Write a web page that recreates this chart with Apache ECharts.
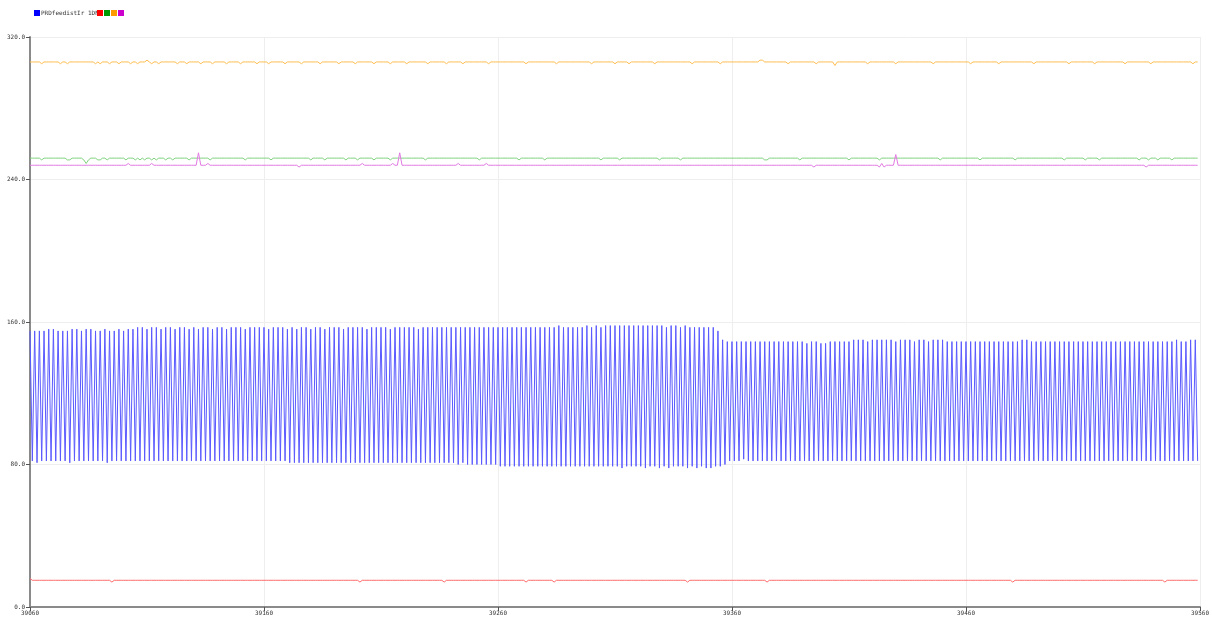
<!DOCTYPE html>
<html>
<head>
<meta charset="utf-8">
<script src="https://cdn.jsdelivr.net/npm/echarts@6/dist/echarts.min.js"></script>
<style>
  html, body { margin: 0; padding: 0; background: #fff; }
  #chart { width: 1212px; height: 632px; }
</style>
</head>
<body>
<div id="chart"></div>
<script>
// serial plotter capture: 500 samples per trace, sample index on x
const xStart = 39060
const xTicks = [39060, 39160, 39260, 39360, 39460, 39560]
const yTicks = [0, 80, 160, 240, 320]
const seriesNames = ['PRDfeedistIr 1DN', 's2', 's3', 's4', 's5']

const blue = [
  155,82,155,81,155,82,155,82,156,82,156,82,155,82,155,82,155,81,156,82,
  156,82,155,82,156,82,156,82,155,82,155,82,156,81,155,82,155,82,156,82,
  155,82,156,82,156,82,157,82,157,82,156,82,157,82,157,82,156,82,157,82,
  157,82,156,82,157,82,157,82,156,82,157,82,156,82,157,82,157,82,156,82,
  157,82,157,82,156,82,157,82,157,82,157,82,156,82,157,82,157,82,157,82,
  157,82,156,82,157,82,157,82,157,82,156,81,157,81,156,81,157,81,157,81,
  156,81,157,81,157,81,156,81,157,81,157,81,157,81,156,81,157,81,157,81,
  157,81,157,81,156,81,157,81,157,81,157,81,157,81,156,81,157,81,157,81,
  157,81,157,81,157,81,156,81,157,81,157,81,157,81,157,81,157,81,157,81,
  157,81,157,80,157,81,157,80,157,80,157,80,157,80,157,80,157,80,157,80,
  157,79,157,79,157,79,157,79,157,79,157,79,157,79,157,79,157,79,157,79,
  157,79,157,79,157,79,158,79,157,79,157,79,157,79,157,79,157,79,158,79,
  157,79,158,79,157,79,158,79,158,79,158,79,158,78,158,79,158,79,158,79,
  158,79,158,78,158,79,158,79,158,78,158,79,157,78,158,79,158,79,157,79,
  158,78,157,79,157,78,157,79,157,78,157,78,157,79,155,79,150,80,149,82,
  149,82,149,82,149,83,149,82,149,82,149,82,149,82,149,82,149,82,149,82,
  149,82,149,82,149,82,149,82,149,82,149,82,148,82,149,82,149,82,148,82,
  148,82,149,82,149,82,149,82,149,82,149,82,150,82,150,82,150,82,149,82,
  150,82,150,82,150,82,150,82,150,82,149,82,150,82,150,82,150,82,149,82,
  150,82,150,82,149,82,150,82,150,82,150,82,149,82,149,82,149,82,149,82,
  149,82,149,82,149,82,149,82,149,82,149,82,149,82,149,82,149,82,149,82,
  149,82,149,82,150,82,150,82,149,82,149,82,149,82,149,82,149,82,149,82,
  149,82,149,82,149,82,149,82,149,82,149,82,149,82,149,82,149,82,149,82,
  149,82,149,82,149,82,149,82,149,82,149,82,149,82,149,82,149,82,149,82,
  149,82,149,82,149,82,149,82,149,82,150,82,149,82,149,82,150,82,150,82
]

const red = [
  16,15,15,15,15,15,15,15,15,15,15,15,15,15,15,15,15,15,15,15,
  15,15,15,15,15,15,15,15,15,15,15,15,15,15,15,14,15,15,15,15,
  15,15,15,15,15,15,15,15,15,15,15,15,15,15,15,15,15,15,15,15,
  15,15,15,15,15,15,15,15,15,15,15,15,15,15,15,15,15,15,15,15,
  15,15,15,15,15,15,15,15,15,15,15,15,15,15,15,15,15,15,15,15,
  15,15,15,15,15,15,15,15,15,15,15,15,15,15,15,15,15,15,15,15,
  15,15,15,15,15,15,15,15,15,15,15,15,15,15,15,15,15,15,15,15,
  15,14,15,15,15,15,15,15,15,15,15,15,15,15,15,15,15,15,15,15,
  15,15,15,15,15,15,15,15,15,15,15,15,15,15,15,15,15,14,15,15,
  15,15,15,15,15,15,15,15,15,15,15,15,15,15,15,15,15,15,15,15,
  15,15,15,15,15,15,15,15,15,15,15,15,14,15,15,15,15,15,15,15,
  15,15,15,15,14,15,15,15,15,15,15,15,15,15,15,15,15,15,15,15,
  15,15,15,15,15,15,15,15,15,15,15,15,15,15,15,15,15,15,15,15,
  15,15,15,15,15,15,15,15,15,15,15,15,15,15,15,15,15,15,15,15,
  15,14,15,15,15,15,15,15,15,15,15,15,15,15,15,15,15,15,15,15,
  15,15,15,15,15,15,15,15,15,15,15,15,15,15,15,14,15,15,15,15,
  15,15,15,15,15,15,15,15,15,15,15,15,15,15,15,15,15,15,15,15,
  15,15,15,15,15,15,15,15,15,15,15,15,15,15,15,15,15,15,15,15,
  15,15,15,15,15,15,15,15,15,15,15,15,15,15,15,15,15,15,15,15,
  15,15,15,15,15,15,15,15,15,15,15,15,15,15,15,15,15,15,15,15,
  15,15,15,15,15,15,15,15,15,15,15,15,15,15,15,15,15,15,15,15,
  14,15,15,15,15,15,15,15,15,15,15,15,15,15,15,15,15,15,15,15,
  15,15,15,15,15,15,15,15,15,15,15,15,15,15,15,15,15,15,15,15,
  15,15,15,15,15,15,15,15,15,15,15,15,15,15,15,15,15,15,15,15,
  15,15,15,15,15,14,15,15,15,15,15,15,15,15,15,15,15,15,15,15
]

const green = [
  252,252,252,252,252,251,252,252,252,252,252,252,252,252,252,252,251,251,252,252,
  252,252,252,251,249,251,252,252,252,251,251,252,252,251,252,252,252,252,252,252,
  252,251,252,252,252,251,252,251,252,251,252,252,251,252,251,252,252,252,251,252,
  252,251,252,252,252,252,252,252,251,252,252,252,252,252,252,252,252,251,252,252,
  252,252,252,252,252,252,252,252,252,252,252,252,251,252,252,252,252,252,252,252,
  252,252,252,251,252,252,252,252,252,252,252,252,252,252,252,252,252,252,252,252,
  251,252,252,252,252,252,251,252,252,252,252,252,252,252,252,251,252,252,252,252,
  251,252,252,252,252,252,252,251,252,252,252,252,252,252,251,252,252,252,252,252,
  252,252,252,252,252,252,252,252,252,251,252,252,252,252,252,252,252,252,252,252,
  252,252,252,252,252,252,252,252,252,252,252,252,251,252,252,252,252,252,252,252,
  252,252,252,252,252,252,252,252,252,251,252,252,252,252,252,252,252,252,252,252,
  251,252,252,252,252,252,252,252,252,252,252,252,252,252,252,252,252,252,252,252,
  252,252,252,252,251,252,252,252,252,252,252,252,251,252,252,252,252,252,252,252,
  252,252,252,252,252,252,252,252,252,251,252,252,252,252,252,252,252,252,251,252,
  252,252,252,252,252,252,252,252,252,252,252,252,252,252,252,252,252,252,252,252,
  252,252,252,252,252,252,252,252,252,252,252,252,252,252,251,251,252,252,252,252,
  252,252,252,252,252,252,252,252,252,251,252,252,252,252,252,252,252,252,252,252,
  252,252,252,252,252,252,252,252,252,252,251,252,252,252,252,252,252,252,252,252,
  252,252,252,251,252,252,252,252,252,252,252,252,252,252,252,252,252,252,252,252,
  252,252,252,252,252,252,252,252,252,251,252,252,252,252,252,252,252,252,252,252,
  252,252,252,252,252,252,251,252,252,252,252,252,252,252,252,252,252,252,252,252,
  252,251,252,252,252,252,252,252,252,252,252,252,252,252,252,252,252,252,252,252,
  252,252,251,252,252,252,252,252,252,252,252,251,252,252,252,252,252,251,252,252,
  252,252,252,252,252,252,252,252,252,252,252,252,252,252,251,252,252,252,251,252,
  252,252,251,252,252,252,252,252,251,252,252,252,252,252,252,252,252,252,252,252
]

const orange = [
  306,306,306,306,306,305,306,306,306,306,306,306,306,305,306,306,305,306,306,306,
  306,306,306,306,306,306,306,306,305,306,305,306,306,306,305,306,306,306,305,306,
  306,306,306,305,306,306,305,306,306,306,307,306,305,306,306,305,306,306,306,306,
  306,306,306,305,306,306,306,305,306,306,306,306,306,305,306,306,306,306,305,306,
  306,306,306,306,305,306,306,306,306,306,305,306,306,306,306,306,306,305,306,306,
  306,306,305,306,306,306,306,306,306,305,306,306,306,306,306,306,305,306,306,306,
  306,306,306,306,305,306,306,306,306,306,306,306,305,306,306,306,306,306,306,305,
  306,306,306,306,306,306,306,305,306,306,306,306,306,306,305,306,306,306,306,306,
  306,305,306,306,306,306,306,306,306,306,305,306,306,306,306,306,306,306,305,306,
  306,306,306,306,306,305,306,306,306,306,306,306,306,306,306,306,305,306,306,306,
  306,306,306,306,306,306,306,306,306,306,306,306,305,306,306,306,306,306,306,306,
  306,306,306,306,306,305,306,306,306,306,306,306,306,306,306,306,306,306,306,306,
  305,306,306,306,306,306,306,306,306,306,305,306,306,306,306,306,305,306,306,306,
  306,306,306,306,306,306,306,305,306,306,306,306,306,306,306,306,306,306,306,306,
  306,306,306,305,306,306,306,306,306,306,306,306,306,306,306,305,306,306,306,306,
  306,306,306,306,306,306,306,306,306,306,306,306,307,307,306,306,306,306,306,306,
  306,306,306,306,305,306,306,306,306,306,306,306,306,306,306,306,305,306,306,306,
  306,306,306,306,304,306,306,306,306,306,306,306,306,306,306,306,306,306,305,306,
  306,306,306,306,306,306,306,306,306,306,305,306,306,306,306,306,306,306,306,306,
  306,306,306,306,306,306,305,306,306,306,306,306,306,306,306,306,306,306,306,306,
  306,306,305,306,306,306,306,306,306,306,306,306,306,306,305,306,306,306,306,306,
  306,306,306,306,306,306,306,306,306,305,306,306,306,306,306,306,306,306,306,306,
  306,306,306,306,305,306,306,306,306,306,306,306,306,306,306,305,306,306,306,306,
  306,306,306,306,306,306,306,306,305,306,306,306,306,306,306,306,306,306,306,305,
  306,306,306,306,306,306,306,306,306,306,306,306,306,306,306,306,306,305,306,306
]

const magenta = [
  248,248,248,248,248,248,248,248,248,248,248,248,248,248,248,248,248,248,248,248,
  248,248,248,248,248,248,248,248,248,248,248,248,248,248,248,248,248,248,248,248,
  248,248,249,248,248,248,248,248,248,248,248,248,249,248,248,248,248,248,248,248,
  248,248,248,248,248,248,248,248,248,248,248,248,255,248,248,248,249,248,248,248,
  248,248,248,248,248,248,248,248,248,248,248,248,248,248,248,248,248,248,248,248,
  248,248,248,248,248,248,248,248,248,248,248,248,248,248,248,247,248,248,248,248,
  248,248,248,248,248,248,248,248,248,248,248,248,248,248,248,248,248,248,248,248,
  248,248,249,248,248,248,248,248,248,248,248,248,248,248,248,249,248,248,255,248,
  248,248,248,248,248,248,248,248,248,248,248,248,248,248,248,248,248,248,248,248,
  248,248,248,249,248,248,248,248,248,248,248,248,248,248,248,249,248,248,248,248,
  248,248,248,248,248,248,248,248,248,248,248,248,248,248,248,248,248,248,248,248,
  248,248,248,248,248,248,248,248,248,248,248,248,248,248,248,248,248,248,248,248,
  248,248,248,248,248,248,248,248,248,248,248,248,248,248,248,248,248,248,248,248,
  248,248,248,248,248,248,248,248,248,248,248,248,248,248,248,248,248,248,248,248,
  248,248,248,248,248,248,248,248,248,248,248,248,248,248,248,248,248,248,248,248,
  248,248,248,248,248,248,248,248,248,248,248,248,248,248,248,248,248,248,248,248,
  248,248,248,248,248,248,248,248,248,248,248,248,248,248,248,247,248,248,248,248,
  248,248,248,248,248,248,248,248,248,248,248,248,248,248,248,248,248,248,248,248,
  248,248,248,247,249,247,248,248,248,248,254,248,248,248,248,248,248,248,248,248,
  248,248,248,248,248,248,248,248,248,248,248,248,248,248,248,248,248,248,248,248,
  248,248,248,248,248,248,248,248,248,248,248,248,248,248,248,248,248,248,248,248,
  248,248,248,248,248,248,248,248,248,248,248,248,248,248,248,248,248,248,248,248,
  248,248,248,248,248,248,248,248,248,248,248,248,248,248,248,248,248,248,248,248,
  248,248,248,248,248,248,248,248,248,248,248,248,248,248,248,248,248,247,248,248,
  248,248,248,248,248,248,248,248,248,248,248,248,248,248,248,248,248,248,248,248
]

const traces = [blue, red, green, orange, magenta]
const lineColors = ['#5a5aff', '#ff6a6a', '#7fd27f', '#ffbd50', '#e27ae2']
const keyColors = ['#0000ff', '#ff0000', '#009900', '#ff9900', '#cc00cc']

const labelFont = { color: '#333', fontSize: 6, fontFamily: 'DejaVu Sans Mono' }

const chart = echarts.init(document.getElementById('chart'), null, { renderer: 'canvas' })

chart.setOption({
  backgroundColor: '#ffffff',
  animation: false,
  legend: [
    {
      left: 34, top: 10, padding: 0,
      icon: 'rect', itemWidth: 6, itemHeight: 6,
      data: [{ name: seriesNames[0], itemStyle: { color: keyColors[0] } }],
      textStyle: { ...labelFont, padding: [0, 0, 0, -4] },
      selectedMode: false,
    },
    {
      left: 97, top: 10, padding: 0,
      icon: 'rect', itemWidth: 6, itemHeight: 6, itemGap: 1,
      data: seriesNames.slice(1).map((n, k) => ({ name: n, itemStyle: { color: keyColors[k + 1] } })),
      formatter: () => '',
      selectedMode: false,
    },
  ],
  grid: { left: 30, right: 12, top: 37, bottom: 25 },
  xAxis: {
    type: 'value',
    min: xTicks[0], max: xTicks[xTicks.length - 1], interval: 100,
    axisLine: { lineStyle: { color: '#8a8a8a', width: 2 } },
    axisTick: { length: 4, lineStyle: { color: '#555' } },
    axisLabel: { ...labelFont, margin: 3, formatter: v => String(v) },
    splitLine: { show: true, lineStyle: { color: '#eeeeee' } },
  },
  yAxis: {
    type: 'value',
    min: yTicks[0], max: yTicks[yTicks.length - 1], interval: 80,
    axisLine: { show: true, lineStyle: { color: '#8a8a8a', width: 2 } },
    axisTick: { show: true, length: 4, lineStyle: { color: '#555' } },
    axisLabel: { ...labelFont, margin: 5, formatter: v => v.toFixed(1) },
    splitLine: { lineStyle: { color: '#eeeeee' } },
  },
  series: traces.map((arr, k) => ({
    name: seriesNames[k],
    type: 'line',
    data: arr.map((v, i) => [xStart + i, v]),
    showSymbol: false,
    color: keyColors[k],
    lineStyle: { color: lineColors[k], width: 1 },
    z: k === 0 ? 1 : 2,
  })),
})
</script>
</body>
</html>
